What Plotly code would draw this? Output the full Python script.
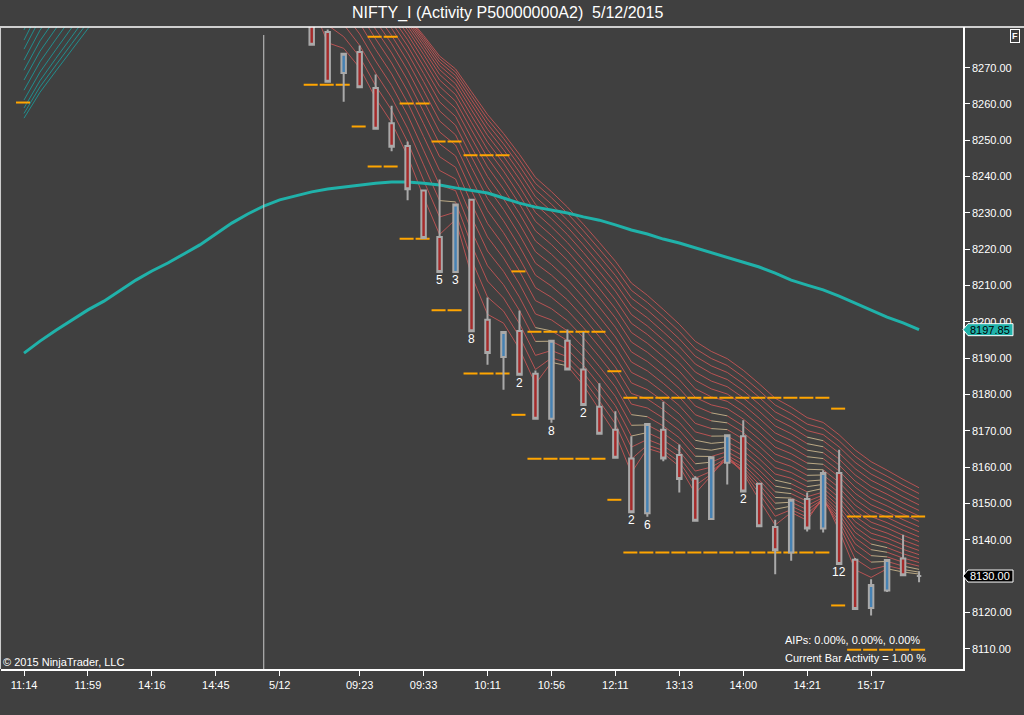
import plotly.graph_objects as go

# Bar index 0 is the first bar fully handled on 5/12; prior-session bars are negative.
# Activity bars are equally spaced, so the x axis is simply the bar number.
bar_x = list(range(0, 39))
opens = [8287.0, 8279.8, 8268.5, 8274.3, 8264.4, 8254.7, 8248.4, 8236.2, 8223.4, 8213.7,
         8233.6, 8200.6, 8190.3, 8197.5, 8185.7, 8173.3, 8194.8, 8186.9, 8176.6, 8170.3,
         8162.4, 8147.3, 8170.3, 8163.3, 8156.8, 8145.7, 8161.2, 8168.5, 8155.4, 8143.5,
         8136.5, 8151.2, 8143.1, 8158.4, 8134.5, 8121.2, 8126.0, 8134.8, 8130.0]
highs = [8290.0, 8280.5, 8273.8, 8276.1, 8268.1, 8259.5, 8249.7, 8236.2, 8239.2, 8232.3,
         8233.8, 8206.7, 8197.2, 8203.1, 8186.6, 8194.8, 8197.9, 8197.2, 8183.1, 8175.4,
         8168.5, 8171.9, 8178.0, 8166.2, 8157.5, 8162.7, 8168.8, 8172.9, 8155.4, 8145.5,
         8151.0, 8153.0, 8159.1, 8164.8, 8135.0, 8129.1, 8134.4, 8141.4, 8131.3]
lows = [8276.3, 8266.1, 8260.6, 8264.6, 8253.2, 8247.0, 8233.5, 8223.1, 8213.7, 8213.7,
        8197.4, 8188.2, 8181.3, 8185.4, 8173.3, 8172.2, 8186.9, 8177.1, 8169.2, 8162.6,
        8147.6, 8146.3, 8161.6, 8153.0, 8145.2, 8145.7, 8155.2, 8153.3, 8143.7, 8130.5,
        8134.2, 8142.3, 8142.0, 8133.3, 8120.9, 8119.1, 8125.6, 8130.2, 8128.3]
closes = [8276.3, 8266.1, 8273.8, 8264.6, 8253.2, 8248.2, 8236.5, 8223.1, 8213.7, 8232.3,
          8197.4, 8191.4, 8197.2, 8185.4, 8173.3, 8194.8, 8186.9, 8177.1, 8169.2, 8162.6,
          8147.6, 8171.9, 8162.4, 8156.7, 8145.2, 8162.7, 8168.8, 8153.3, 8143.7, 8137.1,
          8151.0, 8143.1, 8158.4, 8133.3, 8120.9, 8127.5, 8134.4, 8130.2, 8130.0]

# earlier bars sit above the visible range; closes estimated, only feed the ribbon
prior_x = list(range(-18, 0))
prior_closes = [8334, 8338, 8331, 8336, 8342, 8339, 8333, 8337, 8341, 8336,
                8330, 8334, 8328, 8325, 8319, 8312, 8298, 8290]

# long moving average (teal), bars -18 .. 38
ma_x = list(range(-18, 39))
ma_values = [8191.4, 8194.7, 8197.7, 8200.5, 8203.3, 8205.7, 8208.5, 8211.5, 8214.0, 8216.2,
             8218.7, 8221.2, 8224.2, 8227.2, 8229.7, 8231.9, 8233.6, 8234.7, 8235.8, 8236.6,
             8237.1, 8237.8, 8238.2, 8238.5, 8238.5, 8238.2, 8237.7, 8236.9, 8236.3, 8235.5,
             8234.1, 8232.7, 8231.6, 8230.8, 8230.0, 8228.9, 8228.0, 8226.7, 8225.3, 8224.2,
             8222.8, 8221.7, 8220.4, 8219.0, 8217.9, 8216.5, 8215.1, 8213.4, 8211.5, 8210.1,
             8208.8, 8207.1, 8205.2, 8203.3, 8201.3, 8199.7, 8197.85]

# EMA ribbon: periods (fast -> slow) and their starting values at bar -18
ribbon_periods = [3, 4, 5, 6, 7, 8, 9, 10, 11, 12, 13, 14, 15, 16, 17, 18, 19, 20, 21, 22]
ribbon_seeds = [8304.0, 8301.0, 8298.5, 8296.0, 8293.5, 8291.0, 8288.6, 8286.0, 8283.2, 8280.4,
                8277.6, 8275.1, 8272.1, 8269.3, 8266.6, 8263.8, 8261.1, 8258.9, 8257.4, 8256.1]

# orange range levels: first bar, last bar, price
level_start = [-18, 0, 3, 4, 4, 6, 6, 8, 8, 10, 10, 13, 13, 14, 14, 19, 19, 20, 20, 33, 33, 34, 34]
level_end = [-18, 2, 3, 5, 5, 7, 7, 9, 9, 12, 12, 13, 13, 18, 18, 19, 19, 32, 32, 33, 33, 38, 38]
level_price = [8260.4, 8265.3, 8253.8, 8278.5, 8242.8, 8260.1, 8222.9, 8249.7, 8203.2, 8245.9,
               8185.8, 8213.9, 8174.4, 8197.3, 8162.3, 8186.4, 8151.0, 8179.1, 8136.5, 8176.1,
               8121.9, 8146.4, 8109.7]

# activity counts printed under some bars
count_bars = [8, 9, 10, 13, 15, 17, 20, 21, 27, 33]
count_text = ["5", "3", "8", "2", "8", "2", "2", "6", "2", "12"]

tick_bars = [-18, -14, -10, -6, -2, 3, 7, 11, 15, 19, 23, 27, 31, 35]
tick_text = ["11:14", "11:59", "14:16", "14:45", "5/12", "09:23", "09:33", "10:11",
             "10:56", "12:11", "13:13", "14:00", "14:21", "15:17"]
price_ticks = [8110, 8120, 8130, 8140, 8150, 8160, 8170, 8180, 8190,
               8200, 8210, 8220, 8230, 8240, 8250, 8260, 8270]
session_break = -3

BG = "#404040"
FONT = "Liberation Sans, Arial, sans-serif"
X_RANGE = [-19.44, 40.75]
Y_RANGE = [8104.4, 8281.2]


def ema(values, period, seed):
    a = 2.0 / (period + 1)
    out = [seed]
    for v in values[1:]:
        out.append(out[-1] + a * (v - out[-1]))
    return out


fig = go.Figure()

# ribbon, split into colour groups per segment (flat stretches turn tan)
all_x = prior_x + bar_x
all_closes = prior_closes + closes
segs = {"red": ([], []), "tan": ([], []), "teal": ([], [])}
for period, seed in zip(ribbon_periods, ribbon_seeds):
    line = ema(all_closes, period, seed)
    for t in range(1, len(all_x)):
        d = line[t] - line[t - 1]
        if all_x[t] <= session_break:
            kind = "teal" if d > 0 else "red"
        elif -1.0 < d < 1.0:
            kind = "tan"
        else:
            kind = "red"
        xs, ys = segs[kind]
        xs += [all_x[t - 1], all_x[t], None]
        ys += [line[t - 1], line[t], None]

seg_colors = {"red": "rgba(196,84,84,0.9)", "tan": "rgba(200,180,140,0.9)",
              "teal": "rgba(30,150,150,0.9)"}
for kind, (xs, ys) in segs.items():
    fig.add_trace(go.Scatter(x=xs, y=ys, mode="lines", hoverinfo="skip",
                             line=dict(color=seg_colors[kind], width=1), showlegend=False))

# orange levels, one dash per bar
lx, ly = [], []
for s, e, p in zip(level_start, level_end, level_price):
    lx += [s - 0.5, e + 0.5, None]
    ly += [p, p, None]
fig.add_trace(go.Scatter(x=lx, y=ly, mode="lines", hoverinfo="skip", showlegend=False,
                         line=dict(color="#FFA500", width=2, dash="14px,2px")))

fig.add_trace(go.Scatter(x=ma_x, y=ma_values, mode="lines", hoverinfo="skip", showlegend=False,
                         line=dict(color="#20B2AA", width=3)))

# candles live on an overlaid twin axis so they paint above the line layers
fig.add_trace(go.Candlestick(
    x=bar_x, open=opens, high=highs, low=lows, close=closes,
    increasing=dict(fillcolor="#4682B4", line=dict(color="#A9A9A9", width=2)),
    decreasing=dict(fillcolor="#A52A2A", line=dict(color="#A9A9A9", width=2)),
    whiskerwidth=0, hoverinfo="skip", showlegend=False, xaxis="x2", yaxis="y2",
))

annotations = []
for b, txt in zip(count_bars, count_text):
    annotations.append(dict(x=b, y=lows[b], text=txt, showarrow=False, yanchor="top",
                            yshift=1, font=dict(color="white", size=12, family=FONT)))

annotations += [
    dict(xref="paper", yref="paper", x=0.5265, y=1.0218,
         text="NIFTY_I (Activity P50000000A2) \u00a05/12/2015", showarrow=False,
         xanchor="center", yanchor="middle", font=dict(color="white", size=16, family=FONT)),
    dict(xref="paper", yref="paper", x=0.0, y=0.0109, text="\u00a9 2015 NinjaTrader, LLC",
         showarrow=False, xanchor="left", yanchor="middle",
         font=dict(color="white", size=11, family=FONT)),
    dict(xref="paper", yref="paper", x=0.8125, y=0.0452, text="AIPs: 0.00%, 0.00%, 0.00%",
         showarrow=False, xanchor="left", yanchor="middle",
         font=dict(color="white", size=11, family=FONT)),
    dict(xref="paper", yref="paper", x=0.8125, y=0.0171, text="Current Bar Activity = 1.00 %",
         showarrow=False, xanchor="left", yanchor="middle",
         font=dict(color="white", size=11, family=FONT)),
    dict(xref="paper", yref="paper", x=1.0545, y=0.986, text="<b>F</b>", showarrow=False,
         xanchor="center", yanchor="middle", bordercolor="white", borderwidth=1, borderpad=1,
         font=dict(color="white", size=9, family=FONT)),
    dict(xref="paper", yref="y", x=1.0055, y=ma_values[-1], text=f"{ma_values[-1]:.2f}",
         showarrow=False, xanchor="left", yanchor="middle",
         font=dict(color="black", size=11, family=FONT)),
    dict(xref="paper", yref="y", x=1.0055, y=closes[-1], text=f"{closes[-1]:.2f}",
         showarrow=False, xanchor="left", yanchor="middle",
         font=dict(color="white", size=11, family=FONT)),
]

arrow_box = "M0,0 L5,6 L50,6 L50,-6 L5,-6 Z"
shapes = [
    dict(type="line", xref="x", yref="paper", x0=session_break, x1=session_break,
         y0=0, y1=0.9875, line=dict(color="#C8C8C8", width=1)),
    dict(type="line", xref="paper", yref="paper", x0=-0.002, x1=1.07, y0=1, y1=1,
         line=dict(color="white", width=1.5)),
    dict(type="line", xref="paper", yref="paper", x0=-0.0005, x1=-0.0005, y0=0, y1=1,
         line=dict(color="#D0D0D0", width=1)),
    dict(type="path", xref="paper", yref="y", xsizemode="pixel", ysizemode="pixel",
         xanchor=1.0, yanchor=ma_values[-1], path=arrow_box, layer="above",
         fillcolor="#20B2AA", line=dict(color="white", width=1)),
    dict(type="path", xref="paper", yref="y", xsizemode="pixel", ysizemode="pixel",
         xanchor=1.0, yanchor=closes[-1], path=arrow_box, layer="above",
         fillcolor="black", line=dict(color="white", width=1)),
]

fig.update_layout(
    width=1024, height=715,
    margin=dict(l=1, r=61, t=27, b=46),
    paper_bgcolor=BG, plot_bgcolor=BG,
    showlegend=False, boxgap=0.6,
    font=dict(family=FONT, color="white", size=11),
    annotations=annotations, shapes=shapes,
    xaxis=dict(range=X_RANGE, tickvals=tick_bars, ticktext=tick_text, showgrid=False,
               zeroline=False, showline=True, linecolor="white", linewidth=1.5,
               ticks="outside", ticklen=5, tickcolor="white",
               tickfont=dict(color="white", size=11, family=FONT),
               rangeslider=dict(visible=False), fixedrange=True),
    yaxis=dict(range=Y_RANGE, side="right", tickvals=price_ticks, tickformat=".2f",
               showgrid=False, zeroline=False, showline=True, linecolor="white",
               linewidth=1.5, ticks="outside", ticklen=5, tickcolor="white",
               tickfont=dict(color="white", size=11, family=FONT), fixedrange=True),
    xaxis2=dict(overlaying="x", range=X_RANGE, visible=False, fixedrange=True,
                rangeslider=dict(visible=False)),
    yaxis2=dict(overlaying="y", range=Y_RANGE, visible=False, fixedrange=True),
)

# drop the browser's default page margin so the 1024x715 figure sits at the origin
fig.write_html("out.html", config={"displayModeBar": False},
               post_script="document.body.style.margin='0';document.body.style.overflow='hidden';")
